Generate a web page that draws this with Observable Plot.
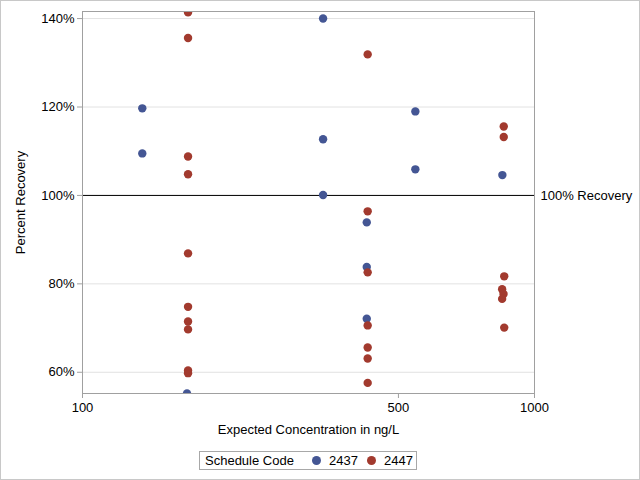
<!DOCTYPE html>
<html>
<head>
<meta charset="utf-8">
<script src="https://cdn.jsdelivr.net/npm/d3@7"></script>
<script src="https://cdn.jsdelivr.net/npm/@observablehq/plot@0.6"></script>
<style>
  html, body { margin: 0; padding: 0; background: #fff; }
  #wrap { position: relative; width: 640px; height: 480px; overflow: hidden; font-family: "Liberation Sans", Arial, sans-serif; }
  #border { position: absolute; left: 0; top: 0; width: 638px; height: 478px; border: 1px solid #c8c8c8; pointer-events: none; }
  #legend { position: absolute; left: 199px; top: 451px; width: 216px; height: 17px; border: 1px solid #a8a8a8; font-size: 13px; color: #000; white-space: nowrap; }
  #legend span { position: absolute; top: 0; line-height: 17px; }
  #legend .sw { width: 9px; height: 9px; border-radius: 50%; top: 4px; }
</style>
</head>
<body>
<div id="wrap"><div id="chart"></div><div id="legend"></div><div id="border"></div></div>
<script>
// Schedule codes (series)
const seriesNames = ["2437", "2447"];
const seriesColors = ["#445694", "#A23A2E"];

// Series 2437: expected concentration (ng/L) and percent recovery
const conc2437 = [135.6, 135.6, 340.6, 340.6, 340.6, 545, 545, 849, 425.5, 425.5, 425.5, 170.3];
const rec2437  = [119.7, 109.5, 140.0, 112.7, 100.1, 119.0, 105.9, 104.6, 93.9, 83.8, 72.1, 55.2];

// Series 2447
const conc2447 = [171.2, 171.2, 171.2, 171.2, 171.2, 171.2, 171.2, 171.2, 171.2, 171.2,
                  427.5, 427.5, 427.5, 427.5, 427.5, 427.5, 427.5,
                  855, 855, 857, 848, 854, 848, 857];
const rec2447  = [141.4, 135.6, 108.8, 104.8, 86.9, 74.8, 71.5, 69.7, 60.4, 59.8,
                  131.9, 96.4, 82.6, 70.6, 65.6, 63.1, 57.6,
                  115.6, 113.2, 81.7, 78.8, 77.7, 76.6, 70.1];

const xTicks = [100, 500, 1000];
const yTicks = [60, 80, 100, 120, 140];
const refValue = 100;
const refLabel = "100% Recovery";
const xLabel = "Expected Concentration in ng/L";
const yLabel = "Percent Recovery";
const legendTitle = "Schedule Code";

const data = [
  ...conc2437.map((c, i) => ({conc: c, rec: rec2437[i], code: seriesNames[0]})),
  ...conc2447.map((c, i) => ({conc: c, rec: rec2447[i], code: seriesNames[1]}))
];

const chart = Plot.plot({
  width: 640,
  height: 440,
  marginLeft: 82,
  marginRight: 106,
  marginTop: 11,
  marginBottom: 47,
  style: {fontFamily: "'Liberation Sans', Arial, sans-serif", fontSize: "13px", color: "#000", background: "transparent"},
  x: {type: "log", domain: [100, 1000]},
  y: {domain: [55.2, 141.6]},
  color: {domain: seriesNames, range: seriesColors},
  marks: [
    Plot.gridY(yTicks, {stroke: "#e2e2e2", strokeOpacity: 1}),
    Plot.ruleY([refValue], {stroke: "#000", strokeWidth: 1}),
    Plot.text([refLabel], {frameAnchor: "right", y: () => refValue, text: d => d, textAnchor: "start", dx: 6, fill: "#000", fontSize: 13}),
    Plot.dot(data, {x: "conc", y: "rec", fill: "code", r: 4.2, clip: true}),
    Plot.frame({stroke: "#a0a0a0"}),
    Plot.axisY(yTicks, {tickFormat: d => d + "%", tickSize: 5, stroke: "#a0a0a0", tickPadding: 3, fontSize: 13, label: yLabel, labelAnchor: "center", labelArrow: "none", labelOffset: 67}),
    Plot.axisX(xTicks, {tickFormat: d => String(d), tickSize: 5, stroke: "#a0a0a0", tickPadding: 4, fontSize: 13, label: xLabel, labelAnchor: "center", labelArrow: "none", labelOffset: 40})
  ]
});
document.getElementById("chart").appendChild(chart);

const leg = document.getElementById("legend");
const add = (cls, left, txt, bg) => {
  const s = document.createElement("span");
  s.className = cls; s.style.left = left + "px";
  if (txt) s.textContent = txt;
  if (bg) s.style.background = bg;
  leg.appendChild(s);
};
add("title", 5, legendTitle);
const swLeft = [112, 167], labLeft = [129, 184];
seriesNames.forEach((n, i) => {
  add("sw", swLeft[i], null, seriesColors[i]);
  add("lab", labLeft[i], n);
});
</script>
</body>
</html>
